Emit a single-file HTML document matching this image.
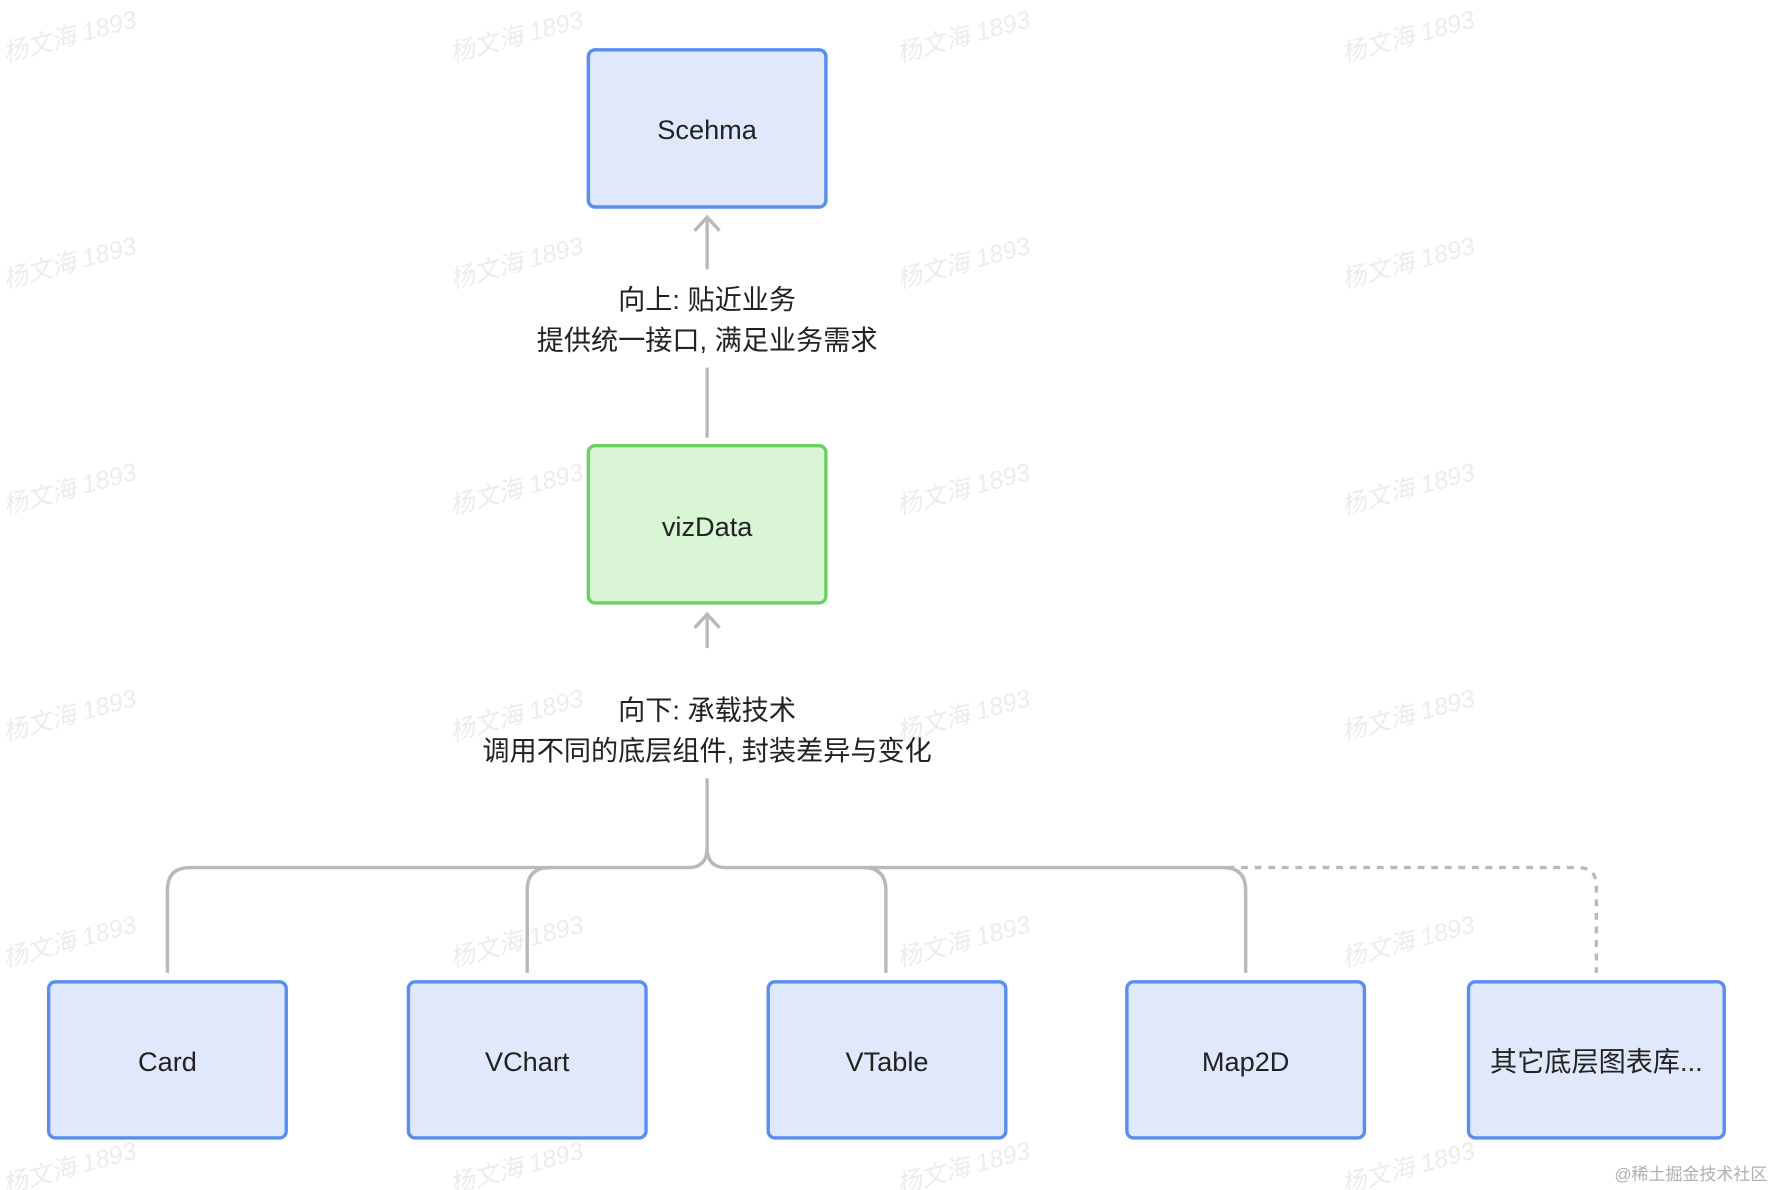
<!DOCTYPE html>
<html><head><meta charset="utf-8"><style>
html,body{margin:0;padding:0;background:#fff;}
svg{display:block}
text{font-family:"Liberation Sans","Noto Sans CJK SC",sans-serif;}
</style></head><body>
<svg width="1774" height="1190" viewBox="0 0 1568 1052" preserveAspectRatio="none" xmlns="http://www.w3.org/2000/svg">
<rect width="1568" height="1052" fill="#fff"/>
<g fill="#ececec" font-size="22" font-style="italic">
<g id="wm">
<text transform="translate(5,55) rotate(-15)">杨文海 1893</text>
<text transform="translate(400,55) rotate(-15)">杨文海 1893</text>
<text transform="translate(795,55) rotate(-15)">杨文海 1893</text>
<text transform="translate(1188,55) rotate(-15)">杨文海 1893</text>
</g>
<use href="#wm" y="200"/><use href="#wm" y="400"/><use href="#wm" y="600"/><use href="#wm" y="800"/><use href="#wm" y="1000"/>
</g>
<g fill="none" stroke="#b9b9b9" stroke-width="3">
<line x1="625" y1="238" x2="625" y2="192"/>
<polyline points="614,204 625,192 636,204"/>
<line x1="625" y1="325" x2="625" y2="387"/>
<line x1="625" y1="573" x2="625" y2="543"/>
<polyline points="614,555 625,543 636,555"/>
<path d="M625 688 V750 Q625 767 608 767 H168 Q148 767 148 787 V860"/>
<path d="M625 750 Q625 767 642 767 H1081 Q1101 767 1101 787 V860"/>
<path d="M486 767 Q466 767 466 787 V860"/>
<path d="M763 767 Q783 767 783 787 V860"/>
<path d="M1085 767 H1395 Q1411 767 1411 783 V860" stroke-dasharray="6 6"/>
</g>
<g font-size="24" fill="#222" text-anchor="middle">
<text x="625" y="273">向上: 贴近业务</text>
<text x="625" y="309">提供统一接口, 满足业务需求</text>
<text x="625" y="636">向下: 承载技术</text>
<text x="625" y="672">调用不同的底层组件, 封装差异与变化</text>
</g>
<g stroke-width="3">
<rect x="520" y="44" width="210" height="139" rx="6" fill="#e0e8fb" stroke="#5b8def"/>
<rect x="520" y="394" width="210" height="139" rx="6" fill="#d9f5d6" stroke="#6dd161"/>
<rect x="43" y="868" width="210" height="138" rx="6" fill="#e0e8fb" stroke="#5b8def"/>
<rect x="361" y="868" width="210" height="138" rx="6" fill="#e0e8fb" stroke="#5b8def"/>
<rect x="679" y="868" width="210" height="138" rx="6" fill="#e0e8fb" stroke="#5b8def"/>
<rect x="996" y="868" width="210" height="138" rx="6" fill="#e0e8fb" stroke="#5b8def"/>
<rect x="1298" y="868" width="226" height="138" rx="6" fill="#e0e8fb" stroke="#5b8def"/>
</g>
<g font-size="24" fill="#222" text-anchor="middle">
<text x="625" y="123">Scehma</text>
<text x="625" y="474">vizData</text>
<text x="148" y="947">Card</text>
<text x="466" y="947">VChart</text>
<text x="784" y="947">VTable</text>
<text x="1101" y="947">Map2D</text>
<text x="1411" y="947">其它底层图表库...</text>
</g>
<text x="1562" y="1043" font-size="15" fill="#b0b0b0" text-anchor="end">@稀土掘金技术社区</text>
</svg>
</body></html>
